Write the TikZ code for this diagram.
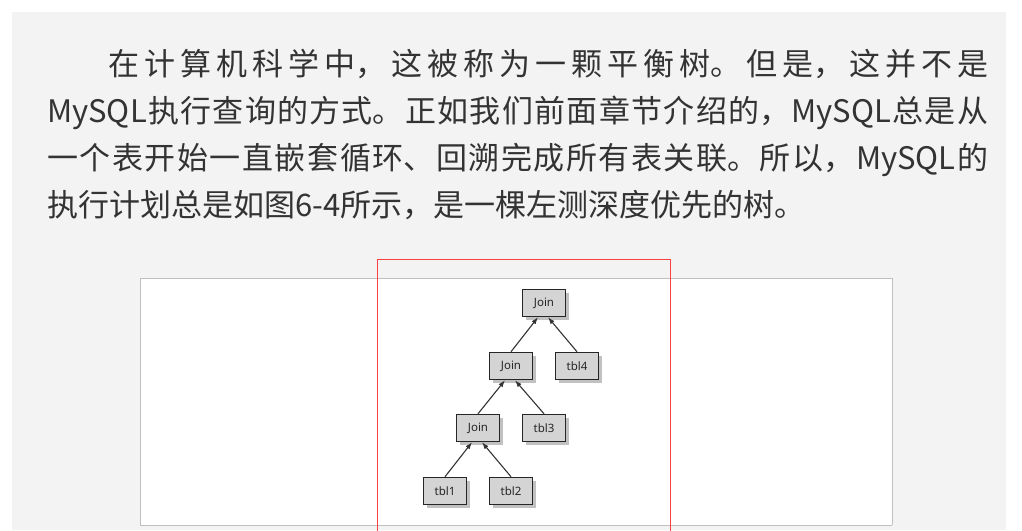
\documentclass[tikz,border=0pt]{standalone}
\usepackage{fontspec}
\setmainfont{Noto Sans CJK SC}
\newfontfamily\boxfont{Noto Sans}
\usetikzlibrary{shadows,arrows.meta}
\XeTeXlinebreaklocale "zh"
\XeTeXlinebreakskip=0pt plus 2pt
\definecolor{bgpanel}{HTML}{F3F3F3}
\definecolor{txt}{HTML}{333333}
\tikzset{
  tnode/.style={draw=black!85, line width=1.5pt, fill=black!17, minimum width=43pt, minimum height=27pt, inner sep=0pt,
     font=\boxfont\fontsize{11.5}{13}\selectfont, text=black!85,
     drop shadow={shadow xshift=3pt, shadow yshift=-3pt, fill=black!40, opacity=0.6}},
  tarrow/.style={-{Latex[length=7pt,width=5pt]}, line width=1.1pt, draw=black!80}
}
\begin{document}
\begin{tikzpicture}[x=1pt,y=-1pt]
\useasboundingbox (0,0) rectangle (1022,530);
\fill[white] (0,0) rectangle (1022,530);
\fill[bgpanel] (12,12) rectangle (1006,530);
\fill[white] (140,278) rectangle (892,525);
\draw[black!25, line width=0.8pt] (140,278) -- (892,278);
\draw[black!25, line width=0.8pt] (140,525) -- (892,525);
\draw[black!25, line width=0.6pt] (140,278) -- (140,525) (892,278) -- (892,525);
\draw[red!75, line width=0.8pt] (377,259) rectangle (670,531);
\node[anchor=north west, inner sep=0pt, text width=941pt, align=justify, text=txt] (para) at (47,49)
 {\fontsize{31}{47}\selectfont\hspace*{61pt}在计算机科学中，这被称为一颗平衡树。但是，这并不是\linebreak
 MySQL执行查询的方式。正如我们前面章节介绍的，MySQL总是从\linebreak
 一个表开始一直嵌套循环、回溯完成所有表关联。所以，MySQL的\linebreak
 执行计划总是如图6-4所示，是一棵左测深度优先的树。\par};
\node[tnode] (j1) at (544,303) {Join};
\node[tnode] (j2) at (511,366) {Join};
\node[tnode] (t4) at (577,366) {tbl4};
\node[tnode] (j3) at (478,428) {Join};
\node[tnode] (t3) at (544,428) {tbl3};
\node[tnode] (t1) at (445,491) {tbl1};
\node[tnode] (t2) at (511,491) {tbl2};
\draw[tarrow] (j2.north) -- ([xshift=-6pt]j1.south);
\draw[tarrow] (t4.north) -- ([xshift=4pt]j1.south);
\draw[tarrow] (j3.north) -- ([xshift=-6pt]j2.south);
\draw[tarrow] (t3.north) -- ([xshift=4pt]j2.south);
\draw[tarrow] (t1.north) -- ([xshift=-6pt]j3.south);
\draw[tarrow] (t2.north) -- ([xshift=4pt]j3.south);
\end{tikzpicture}
\end{document}
